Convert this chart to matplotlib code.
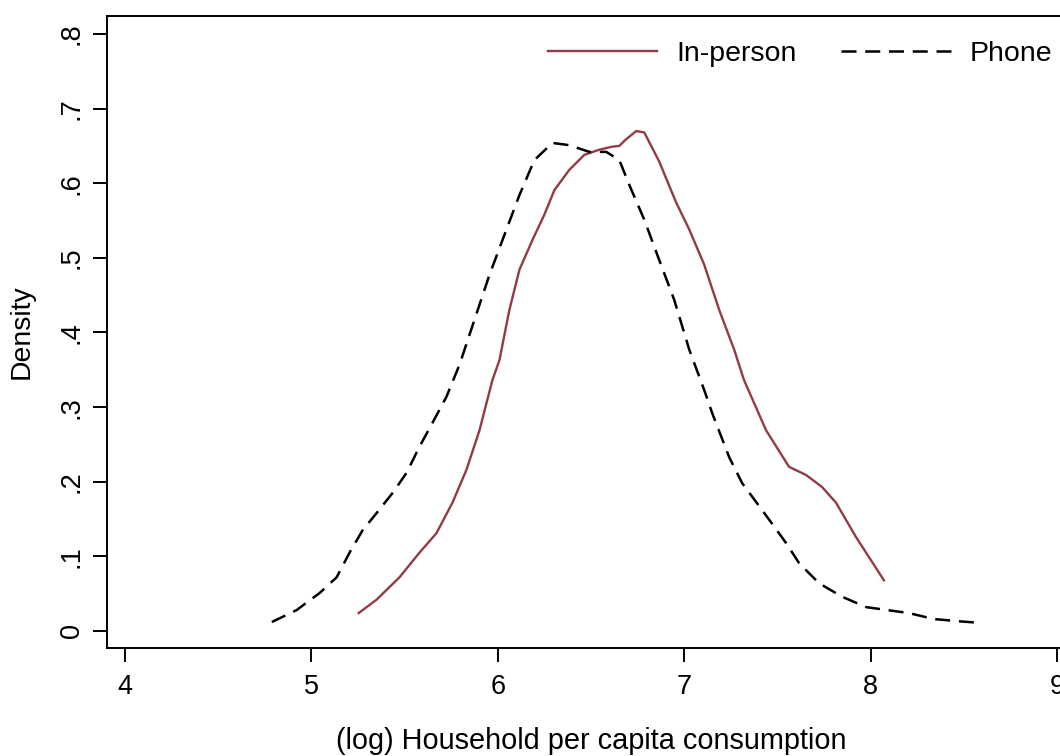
import matplotlib
matplotlib.use("Agg")
import matplotlib.pyplot as plt

plt.rcParams['font.family'] = ['Liberation Sans', 'DejaVu Sans']

# In-person density curve
inperson_x = [5.254, 5.350, 5.473, 5.580, 5.671, 5.757, 5.832, 5.902, 5.971, 6.009,
              6.062, 6.116, 6.186, 6.250, 6.304, 6.384, 6.464, 6.545, 6.614, 6.652,
              6.684, 6.743, 6.786, 6.866, 6.957, 7.027, 7.107, 7.188, 7.268, 7.321,
              7.439, 7.562, 7.654, 7.739, 7.814, 7.921, 8.071]
inperson_y = [0.024, 0.042, 0.072, 0.105, 0.131, 0.172, 0.216, 0.269, 0.336, 0.363,
              0.430, 0.484, 0.524, 0.558, 0.591, 0.618, 0.638, 0.645, 0.649, 0.650,
              0.658, 0.670, 0.668, 0.629, 0.574, 0.538, 0.491, 0.430, 0.377, 0.336,
              0.269, 0.220, 0.209, 0.193, 0.172, 0.126, 0.068]

# Phone density curve
phone_x = [4.788, 4.921, 5.045, 5.136, 5.205, 5.275, 5.350, 5.436, 5.511, 5.580,
           5.650, 5.725, 5.795, 5.875, 5.955, 6.036, 6.116, 6.196, 6.293, 6.384,
           6.491, 6.582, 6.652, 6.705, 6.786, 6.866, 6.946, 7.027, 7.107, 7.150,
           7.241, 7.311, 7.418, 7.546, 7.616, 7.723, 7.846, 7.975, 8.205, 8.339,
           8.473, 8.580]
phone_y = [0.012, 0.028, 0.051, 0.072, 0.105, 0.135, 0.158, 0.185, 0.212, 0.247,
           0.279, 0.314, 0.357, 0.417, 0.477, 0.531, 0.584, 0.631, 0.654, 0.651,
           0.642, 0.642, 0.631, 0.598, 0.551, 0.497, 0.444, 0.377, 0.323, 0.292,
           0.233, 0.198, 0.162, 0.118, 0.091, 0.064, 0.046, 0.032, 0.024, 0.016,
           0.013, 0.011]

xticks = [4, 5, 6, 7, 8, 9]
yticks = [0, 0.1, 0.2, 0.3, 0.4, 0.5, 0.6, 0.7, 0.8]
ytick_labels = ["0", ".1", ".2", ".3", ".4", ".5", ".6", ".7", ".8"]

W, H = 1060, 756
fig = plt.figure(figsize=(W / 100, H / 100), dpi=100)
left, right, top, bottom = 107, 1075, 16, 648
ax = fig.add_axes([left / W, 1 - bottom / H, (right - left) / W, (bottom - top) / H])

fs_tick = 19.5
fs_lab = 20.8
ax.plot(inperson_x, inperson_y, color='#933B45', lw=1.7, label='In-person',
        solid_joinstyle='round')
ax.plot(phone_x, phone_y, color='black', lw=1.8, linestyle=(0, (6, 3.5)), label='Phone')

ax.set_xlim(3.904, 9.096)
ax.set_ylim(-0.0228, 0.8241)
ax.set_xticks(xticks)
ax.set_yticks(yticks)
ax.set_yticklabels(ytick_labels, rotation=90, va='center')
ax.tick_params(axis='both', direction='out', length=10, width=1.4, labelsize=fs_tick, color='black')
ax.tick_params(axis='y', pad=6)
ax.tick_params(axis='x', pad=9)
for s in ax.spines.values():
    s.set_linewidth(1.4)

ax.set_ylabel('Density', fontsize=20.4)
ax.yaxis.set_label_coords((35 - left) / (right - left), (bottom - 332) / (bottom - top))
ax.set_xlabel('(log) Household per capita consumption', fontsize=fs_lab)
ax.xaxis.set_label_coords(0.5, (bottom - 727) / (bottom - top))

fig.legend(loc='center left', bbox_to_anchor=(548 / W, 1 - 54 / H), ncol=2,
           frameon=False, fontsize=20.5, handlelength=3.83, handletextpad=0.67,
           columnspacing=1.58, borderpad=0, borderaxespad=0)

fig.savefig('out.png', dpi=100)
